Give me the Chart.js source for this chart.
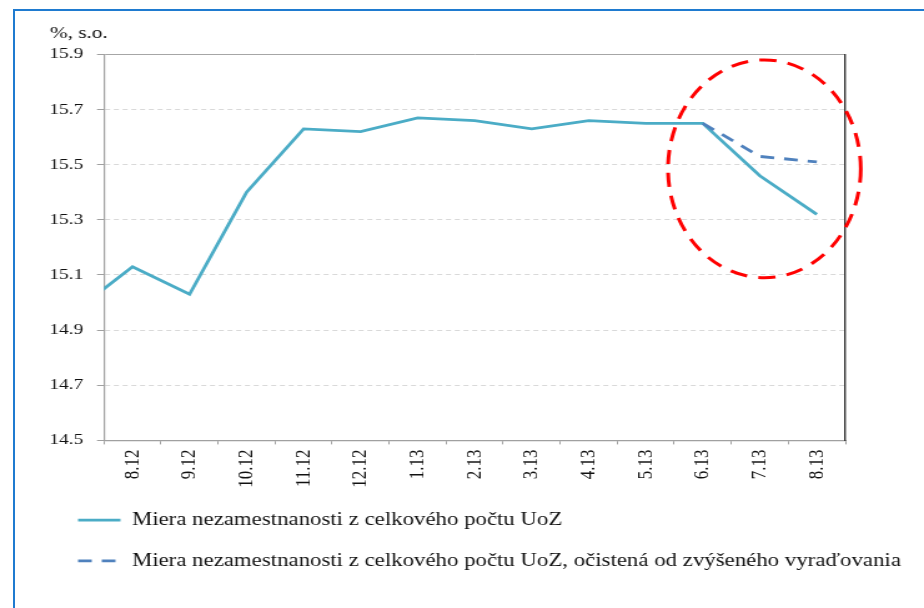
<!DOCTYPE html>
<html>
<head>
<meta charset="utf-8">
<script src="https://cdn.jsdelivr.net/npm/chart.js@4/dist/chart.umd.min.js"></script>
<style>
  html, body { margin: 0; padding: 0; background: #ffffff; overflow: hidden; }
  #frame { position: absolute; left: 13px; top: 9px; width: 2000px; height: 2000px;
           border-left: 2px solid #1f7bd0; border-top: 2px solid #1f7bd0; }
  #c { position: absolute; left: 0; top: 0; z-index: 1; }
</style>
</head>
<body>
<div id="frame"></div>
<canvas id="c" width="740" height="608" style="width:924px;height:608px;"></canvas>
<script>
// Categories (month.year); 7.12 lies just left of the visible plot and is clipped
const categories = ['7.12', '8.12', '9.12', '10.12', '11.12', '12.12', '1.13', '2.13', '3.13', '4.13', '5.13', '6.13', '7.13', '8.13'];
const firstVisible = '8.12';
// Unemployment rate from total number of registered job seekers (%, s.a.)
const rateTotal = [14.97, 15.13, 15.03, 15.40, 15.63, 15.62, 15.67, 15.66, 15.63, 15.66, 15.65, 15.65, 15.46, 15.32];
// Same rate, adjusted for increased removals from the register
const rateAdjusted = [null, null, null, null, null, null, null, null, null, null, null, 15.65, 15.53, 15.51];
const yTicks = [14.5, 14.7, 14.9, 15.1, 15.3, 15.5, 15.7, 15.9];
const seriesNames = [
  'Miera nezamestnanosti z celkového počtu UoZ',
  'Miera nezamestnanosti z celkového počtu UoZ, očistená od zvýšeného vyraďovania'
];
const unitLabel = '%, s.o.';

const FONT = '"Liberation Serif", "Times New Roman", serif';

// Red dashed ellipse highlighting the last months
const highlight = {
  id: 'highlight',
  afterDatasetsDraw(chart) {
    const x = chart.scales.x, y = chart.scales.y;
    const i = categories.indexOf('7.13');
    const step = x.getPixelForValue(i) - x.getPixelForValue(i - 1);
    const cx = x.getPixelForValue(i) + step * 0.08;
    const cy = y.getPixelForValue(15.485);
    const rx = step * 1.69;
    const ry = Math.abs(y.getPixelForValue(15.88) - cy);
    const ctx = chart.ctx;
    ctx.save();
    ctx.strokeStyle = '#ff0000';
    ctx.lineWidth = 3;
    ctx.setLineDash([14, 9]);
    ctx.beginPath();
    ctx.ellipse(cx, cy, rx, ry, 0, 0, Math.PI * 2);
    ctx.stroke();
    ctx.restore();
  }
};

new Chart(document.getElementById('c'), {
  type: 'line',
  data: {
    labels: categories,
    datasets: [
      {
        label: seriesNames[0],
        data: rateTotal,
        borderColor: '#4bacc6',
        backgroundColor: '#4bacc6',
        borderWidth: 2.8,
        pointRadius: 0,
        tension: 0,
        order: 2
      },
      {
        label: seriesNames[1],
        data: rateAdjusted,
        borderColor: '#4f81bd',
        backgroundColor: '#4f81bd',
        borderWidth: 2.8,
        borderDash: [11, 8],
        pointRadius: 0,
        tension: 0,
        spanGaps: false,
        order: 1
      }
    ]
  },
  options: {
    responsive: false,
    devicePixelRatio: 1,
    animation: false,
    layout: { padding: { left: 40, right: 5, top: 0, bottom: 28 } },
    plugins: {
      tooltip: { enabled: false },
      title: {
        display: true,
        text: unitLabel,
        align: 'start',
        color: '#111',
        font: { family: FONT, size: 17, weight: 'normal' },
        padding: { top: 23, bottom: 11 }
      },
      legend: {
        display: true,
        position: 'bottom',
        align: 'start',
        labels: {
          color: '#111',
          font: { family: FONT, size: 18.3 },
          usePointStyle: true,
          pointStyle: 'line',
          pointStyleWidth: 34,
          padding: 22.5,
          sort: (a, b) => a.datasetIndex - b.datasetIndex,
          generateLabels: chart => {
            const items = Chart.defaults.plugins.legend.labels.generateLabels(chart);
            items.forEach(it => {
              const ds = chart.data.datasets[it.datasetIndex];
              it.lineDash = ds.borderDash || [];
              it.lineWidth = ds.borderWidth;
              it.strokeStyle = ds.borderColor;
              it.fillStyle = ds.borderColor;
              it.pointStyle = 'line';
            });
            return items;
          }
        }
      }
    },
    scales: {
      x: {
        type: 'category',
        min: firstVisible,
        offset: true,
        grid: {
          offset: true,
          drawOnChartArea: false,
          drawTicks: true,
          tickLength: 4,
          color: '#a0a0a0'
        },
        border: { display: true, color: '#a0a0a0', width: 1.2 },
        ticks: {
          autoSkip: false,
          minRotation: 90,
          maxRotation: 90,
          padding: 5,
          color: '#111',
          font: { family: FONT, size: 17 }
        },
        afterFit: s => { s.height = 48; }
      },
      y: {
        type: 'linear',
        position: 'left',
        min: 14.5,
        max: 15.9,
        afterBuildTicks: s => { s.ticks = yTicks.map(v => ({ value: v })); },
        grid: {
          color: c => (c.tick && c.tick.value >= 15.9 - 1e-9) ? '#a6a6a6' : '#d9d9d9',
          tickColor: '#a0a0a0',
          tickLength: 5.6,
          lineWidth: 1
        },
        border: {
          display: true,
          color: '#a0a0a0',
          width: 1.2,
          dash: c => (c.tick && c.tick.value >= 15.9 - 1e-9) ? [] : [4, 3]
        },
        ticks: {
          padding: 11,
          color: '#111',
          font: { family: FONT, size: 15.5 },
          callback: v => Number(v).toFixed(1)
        },
        afterFit: s => { s.width = 43.3; }
      },
      yRight: {
        type: 'linear',
        position: 'right',
        display: true,
        grid: { drawOnChartArea: false, drawTicks: false },
        border: { display: true, color: '#333333', width: 1.4 },
        ticks: { display: false },
        afterFit: s => { s.width = 58; }
      }
    }
  },
  plugins: [highlight]
});
</script>
</body>
</html>
